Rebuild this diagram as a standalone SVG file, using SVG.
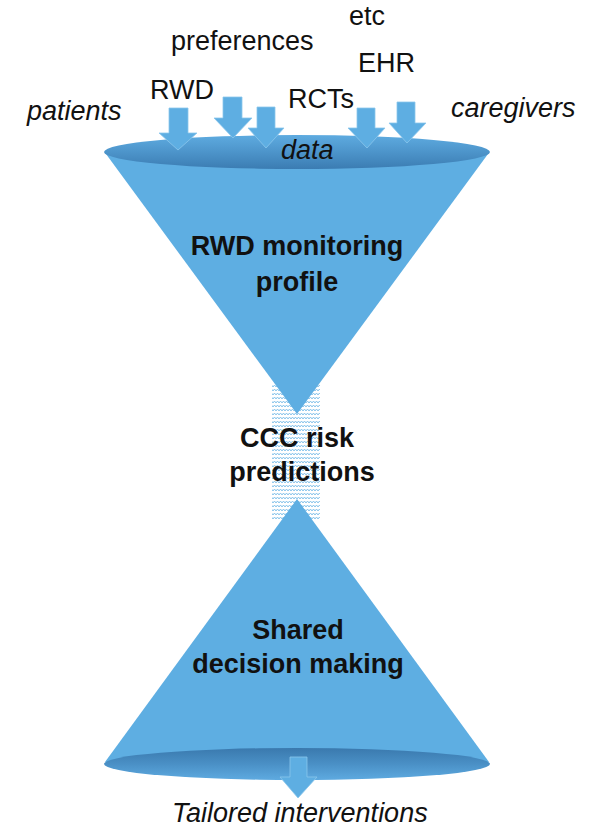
<svg xmlns="http://www.w3.org/2000/svg" width="606" height="829" viewBox="0 0 606 829">
  <style>
    .lbl { font-family: "Liberation Sans", Arial, sans-serif; font-size: 27px; fill: #111; }
    .it { font-style: italic; }
    .bold { font-weight: bold; font-size: 27px; text-anchor: middle; }
    .cone { fill: #5eaee2; }
    .arrow { fill: #5eaee2; stroke: #8cc6ec; stroke-width: 0.8; }
  </style>
  <defs>
    <linearGradient id="topRim" x1="0" y1="0" x2="0" y2="1">
      <stop offset="0" stop-color="#5eabe0"/>
      <stop offset="0.55" stop-color="#4b92c8"/>
      <stop offset="1" stop-color="#3b7cb2"/>
    </linearGradient>
    <linearGradient id="botRim" x1="0" y1="0" x2="0" y2="1">
      <stop offset="0" stop-color="#3a79ae"/>
      <stop offset="0.5" stop-color="#4a90c6"/>
      <stop offset="1" stop-color="#5eaae0"/>
    </linearGradient>
    <pattern id="wave" width="6" height="4" patternUnits="userSpaceOnUse">
      <path d="M0 3 L1.5 1 L3 3 L4.5 1 L6 3" fill="none" stroke="#7dbde8" stroke-width="0.9"/>
    </pattern>
  </defs>

  <!-- hatched neck between the two cones -->
  <g id="neck">
    <rect x="272" y="385" width="48" height="135" fill="url(#wave)"/>
  </g>

  <!-- upper funnel -->
  <g id="funnel-top">
    <polygon class="cone" points="106,154 297,414 488,154"/>
    <ellipse cx="297" cy="152" rx="193" ry="17" fill="url(#topRim)"/>
  </g>

  <!-- lower funnel -->
  <g id="funnel-bottom">
    <polygon class="cone" points="297,499 105,762 489,762"/>
    <ellipse cx="297" cy="764" rx="193" ry="16" fill="url(#botRim)"/>
  </g>

  <!-- input and output arrows -->
  <g id="connectors">
    <path class="arrow" d="M169 108 H188 V133 H197 L178 150 L159 133 H169 Z"/>
    <path class="arrow" d="M223 97 H242 V118 H252 L233 138 L214 118 H223 Z"/>
    <path class="arrow" d="M257 107 H275 V128 H284 L266 148 L248 128 H257 Z"/>
    <path class="arrow" d="M357 108 H375 V128 H385 L367 148 L348 128 H357 Z"/>
    <path class="arrow" d="M397 102 H415 V123 H426 L407 143 L389 123 H397 Z"/>
    <path class="arrow" d="M290 757 H307 V777 H317 L298 798 L280 777 H290 Z"/>
  </g>

  <!-- sources -->
  <g id="sources">
    <text class="lbl" x="349" y="25">etc</text>
    <text class="lbl" x="171" y="50">preferences</text>
    <text class="lbl" x="150" y="99">RWD</text>
    <text class="lbl" x="358" y="72">EHR</text>
    <text class="lbl" x="288" y="108">RCTs</text>
    <text class="lbl it" x="27" y="120">patients</text>
    <text class="lbl it" x="451" y="117">caregivers</text>
    <text class="lbl it" x="281" y="159">data</text>
  </g>

  <g id="monitoring">
    <text class="lbl bold" x="297" y="255">RWD monitoring</text>
    <text class="lbl bold" x="297" y="291">profile</text>
  </g>

  <g id="risk">
    <text class="lbl bold" x="297" y="447">CCC risk</text>
    <text class="lbl bold" x="302" y="481">predictions</text>
  </g>

  <g id="decision">
    <text class="lbl bold" x="298" y="639">Shared</text>
    <text class="lbl bold" x="298" y="673">decision making</text>
  </g>

  <g id="outcome">
    <text class="lbl it" x="172" y="822">Tailored interventions</text>
  </g>
</svg>
